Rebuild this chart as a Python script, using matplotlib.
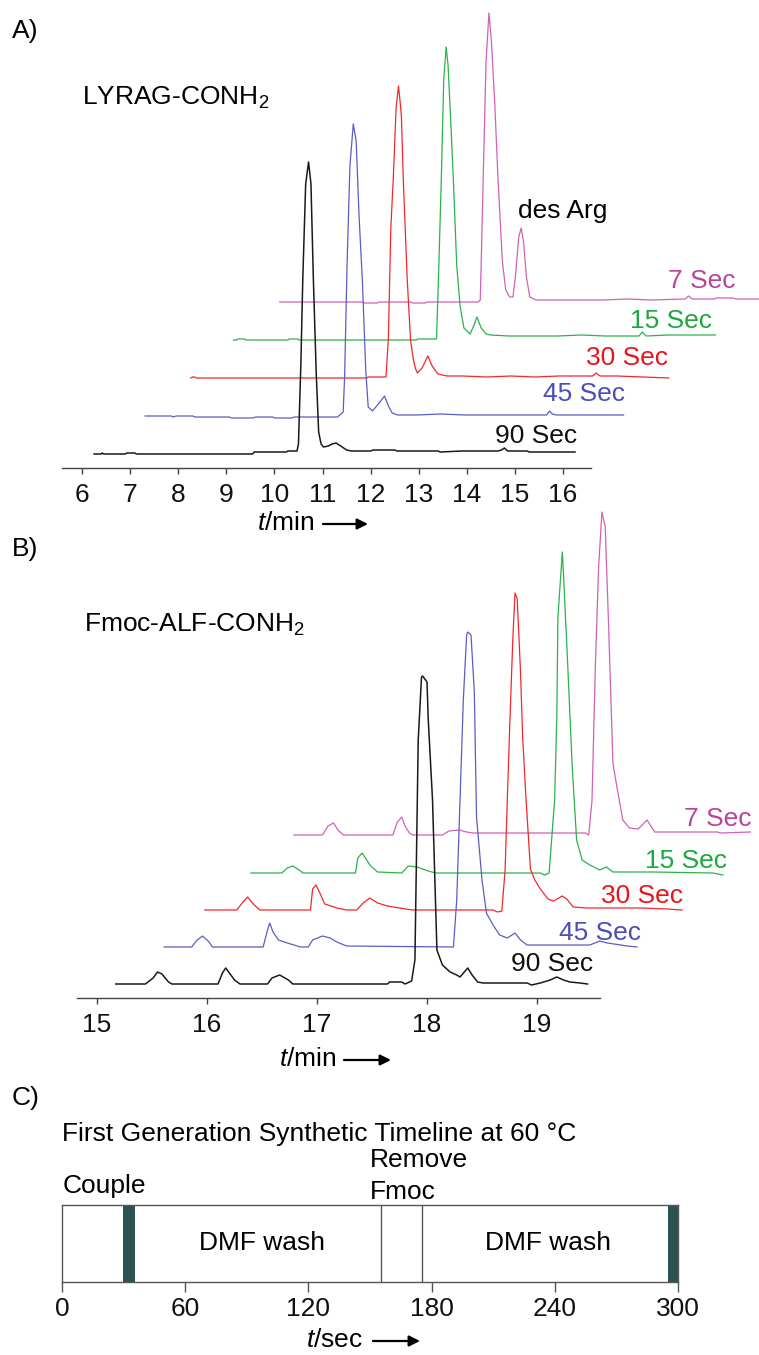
import numpy as np
import matplotlib.pyplot as plt

plt.rcParams['font.family'] = ['Liberation Sans', 'DejaVu Sans']
plt.rcParams['mathtext.fontset'] = 'custom'
plt.rcParams['mathtext.rm'] = 'Liberation Sans'
plt.rcParams['mathtext.it'] = 'Liberation Sans:italic'

# ---------------- data ----------------
runs = ['90 Sec', '45 Sec', '30 Sec', '15 Sec', '7 Sec']
line_colors = ['#1a1a1a', '#5b5dc6', '#f3262c', '#2bb24c', '#d262b4']
text_colors = ['#111111', '#4b4db8', '#e8161c', '#1fa83f', '#b8449e']

# A) LYRAG-CONH2, each run on its own clock (min), signal (a.u.)
lyrag_90_t = [6.25, 6.4, 6.42, 6.45, 6.9, 6.93, 7.1, 7.13, 9.55, 9.58, 10.25, 10.28, 10.47, 10.50,
              10.55, 10.59, 10.65, 10.71, 10.76, 10.81, 10.87, 10.92, 10.97, 11.02, 11.12, 11.2,
              11.28, 11.38, 11.5, 11.6, 12.0, 12.05, 12.5, 12.55, 13.4, 13.45, 13.9, 14.65, 14.72,
              14.78, 14.85, 15.25, 15.3, 16.25]
lyrag_90_y = [0, 0, 1, 0, 0, 1, 1, 0, 0, 2, 2, 3, 3, 10,
              90, 175, 270, 292, 270, 175, 80, 22, 10, 7, 8, 10,
              11, 8, 4, 3, 3, 4, 4, 3, 3, 2, 3, 3, 4,
              6, 3, 3, 2, 2]
lyrag_45_t = [6.35, 6.9, 6.93, 7.0, 7.35, 7.38, 7.6, 8.1, 8.15, 8.6, 8.65, 9.0, 9.05, 9.4, 9.45,
              10.35, 10.40, 10.47, 10.50, 10.55, 10.61, 10.68, 10.74, 10.80, 10.87, 10.94, 10.99,
              11.08, 11.2, 11.33, 11.42, 11.49, 11.6, 12.0, 12.5, 13.0, 13.5, 14.0, 14.7, 14.76,
              14.82, 14.9, 15.3, 16.3]
lyrag_45_y = [0, 0, -1, 0, 0, -1, -1, -1, -2, -2, -1, -1, -2, -2, -1,
              -1, 1, 4, 40, 150, 250, 292, 275, 200, 134, 45, 9,
              5, 12, 20, 9, 3, 1, 1, 2, 1, 1, 1, 1, 5,
              2, 1, 1, 1]
lyrag_30_t = [6.34, 6.38, 6.42, 6.46, 10.0, 10.03, 10.40, 10.45, 10.50, 10.55, 10.61, 10.66, 10.69,
              10.72, 10.76, 10.84, 10.91, 10.97, 11.01, 11.05, 11.15, 11.27, 11.36, 11.48, 11.67,
              12.0, 12.5, 13.0, 13.5, 14.0, 14.7, 14.77, 14.85, 15.2, 16.28]
lyrag_30_y = [0, 1, 1, 0, 0, 1, 1, 40, 150, 198, 270, 292, 278,
              262, 198, 100, 38, 18, 10, 5, 10, 22, 12, 4, 2,
              2, 1, 2, 1, 2, 2, 5, 2, 2, 0]
lyrag_15_t = [6.27, 6.33, 6.36, 6.5, 6.53, 7.4, 7.43, 7.6, 7.63, 10.07, 10.10, 10.49, 10.53, 10.59,
              10.64, 10.69, 10.73, 10.78, 10.84, 10.91, 10.98, 11.06, 11.19, 11.27, 11.33, 11.42,
              11.52, 11.61, 12.0, 12.5, 13.0, 13.5, 14.0, 14.7, 14.77, 14.85, 15.3, 16.29]
lyrag_15_y = [0, 0, 1, 1, 0, 0, 1, 1, 0, 0, 1, 1, 60, 161,
              260, 293, 275, 225, 161, 75, 34, 12, 6, 15, 23, 12,
              6, 5, 4, 4, 4, 5, 4, 4, 8, 4, 5, 5]
lyrag_7_t = [6.27, 8.0, 8.03, 8.3, 8.33, 9.0, 9.03, 9.3, 9.33, 10.40, 10.44, 10.47, 10.50, 10.56,
             10.62, 10.67, 10.74, 10.81, 10.9, 10.97, 11.05, 11.12, 11.18, 11.24, 11.29, 11.34,
             11.4, 11.47, 11.6, 12.0, 12.5, 13.0, 13.5, 14.0, 14.7, 14.77, 14.85, 15.3, 15.35,
             15.7, 15.75, 16.25]
lyrag_7_y = [0, 0, -1, -1, 0, 0, -1, -1, 0, 0, 2, 60, 122, 240,
             289, 262, 200, 122, 40, 12, 5, 5, 30, 65, 74, 60,
             25, 5, 2, 2, 2, 2, 3, 2, 3, 6, 3, 3, 4,
             4, 3, 3]

# B) Fmoc-ALF-CONH2
alf_90_t = [15.17, 15.44, 15.51, 15.55, 15.59, 15.65, 15.68, 16.10, 16.14, 16.17, 16.21, 16.25,
            16.30, 16.55, 16.59, 16.66, 16.74, 16.78, 17.64, 17.66, 17.77, 17.80, 17.86, 17.89,
            17.92, 17.95, 17.96, 18.00, 18.01, 18.05, 18.09, 18.14, 18.21, 18.27, 18.30, 18.37,
            18.41, 18.46, 18.51, 18.91, 18.95, 19.03, 19.12, 19.18, 19.24, 19.30, 19.39, 19.46]
alf_90_y = [0, 0, 6, 12, 10, 2, 0, 0, 11, 16, 10, 4,
            0, 0, 6, 9, 4, 0, 0, 2, 2, 0, 3, 24,
            244, 307, 308, 302, 267, 184, 34, 19, 12, 9, 7, 16,
            9, 2, 1, 1, -1, 1, 4, 7, 4, 2, 1, 0]
alf_45_t = [15.20, 15.45, 15.50, 15.55, 15.60, 15.64, 16.10, 16.14, 16.16, 16.19, 16.24, 16.32,
            16.44, 16.51, 16.55, 16.64, 16.71, 16.77, 16.86, 17.83, 17.86, 17.89, 17.92, 17.95,
            17.96, 17.99, 18.02, 18.04, 18.09, 18.13, 18.19, 18.25, 18.32, 18.39, 18.44, 18.50,
            19.07, 19.16, 19.23, 19.41, 19.50]
alf_45_y = [0, 0, 7, 11, 6, 0, 0, 17, 24, 15, 7, 4,
            0, 0, 7, 11, 9, 5, 1, 0, 47, 147, 247, 312,
            315, 312, 255, 130, 67, 34, 22, 12, 9, 14, 7, 2,
            2, 6, 4, 1, 0]
alf_30_t = [15.16, 15.45, 15.50, 15.55, 15.60, 15.66, 16.12, 16.14, 16.17, 16.21, 16.25, 16.36,
            16.45, 16.54, 16.60, 16.66, 16.73, 16.82, 16.93, 17.05, 17.78, 17.82, 17.86, 17.89,
            17.91, 17.93, 17.96, 17.98, 18.00, 18.03, 18.05, 18.08, 18.12, 18.16, 18.21, 18.28,
            18.33, 18.41, 18.45, 18.51, 18.63, 19.12, 19.36, 19.50]
alf_30_y = [0, 0, 7, 13, 6, 0, 0, 21, 25, 16, 6, 2,
            0, 0, 7, 12, 7, 4, 2, 0, 0, -2, -1, 40,
            111, 178, 271, 317, 311, 238, 171, 111, 41, 30, 21, 11,
            9, 14, 11, 3, 2, 2, 1, 0]
alf_15_t = [15.17, 15.45, 15.50, 15.55, 15.62, 15.64, 16.12, 16.14, 16.18, 16.21, 16.25, 16.32,
            16.54, 16.60, 16.68, 16.78, 16.85, 17.80, 17.84, 17.88, 17.93, 17.95, 17.96, 18.00,
            18.01, 18.05, 18.09, 18.13, 18.18, 18.25, 18.34, 18.40, 18.46, 18.82, 19.37, 19.46]
alf_15_y = [0, 0, 5, 7, 2, 0, 0, 15, 20, 15, 8, 1,
            0, 7, 6, 2, 0, 0, -2, 0, 73, 156, 256, 321,
            300, 206, 106, 33, 13, 8, 3, 6, 1, 1, 0, -2]
alf_7_t = [15.15, 15.41, 15.46, 15.51, 15.55, 15.60, 16.05, 16.09, 16.13, 16.16, 16.20, 16.23,
           16.50, 16.56, 16.65, 16.72, 16.78, 17.80, 17.83, 17.86, 17.89, 17.92, 17.95, 17.98,
           18.01, 18.05, 18.08, 18.14, 18.20, 18.28, 18.36, 18.43, 18.50, 19.00, 19.03, 19.30]
alf_7_y = [0, 0, 9, 12, 5, 0, 0, 13, 18, 9, 2, 0,
           0, 4, 5, 3, 2, 2, 0, 35, 168, 268, 323, 308,
           212, 72, 52, 15, 7, 6, 15, 3, 3, 3, 2, 3]

# C) synthesis timeline (s)
drain_start = [29.7, 295.2]
drain_end = [35.6, 300.0]
step_dividers = [155.4, 175.4]
wash_centers = [97.5, 236.5]
sec_ticks = [0, 60, 120, 180, 240, 300]

# ---------------- layout ----------------
W, H = 759, 1355
FS = 19


def rect(l, t, r, b):
    return [l / W, 1 - b / H, (r - l) / W, (b - t) / H]


def fx(x):
    return x / W


def fy(y):
    return 1 - y / H


fig = plt.figure(figsize=(W / 100, H / 100), dpi=100)


def chrom_axes(box, xlim, spine_end, ticks):
    ax = fig.add_axes(rect(*box))
    ax.set_xlim(*xlim)
    ax.set_ylim(0, box[3] - box[1])
    ax.patch.set_alpha(0)
    for s in ('left', 'top', 'right'):
        ax.spines[s].set_visible(False)
    ax.spines['bottom'].set_color('#444444')
    ax.spines['bottom'].set_linewidth(1.0)
    ax.spines['bottom'].set_bounds(xlim[0], spine_end)
    ax.set_yticks([])
    ax.set_xticks(ticks)
    ax.set_xticklabels([str(v) for v in ticks])
    ax.tick_params(axis='x', direction='out', length=4.5, width=1, color='#444444',
                   labelcolor='#111111', labelsize=FS, pad=6)
    return ax


# panel A
ax_a = chrom_axes((62, 0, 759, 468), (5.584, 20.075), 16.58, list(range(6, 17)))
a_t = [lyrag_90_t, lyrag_45_t, lyrag_30_t, lyrag_15_t, lyrag_7_t]
a_y = [lyrag_90_y, lyrag_45_y, lyrag_30_y, lyrag_15_y, lyrag_7_y]
a_dx = 0.96
a_base = [14, 52, 90, 128, 166]
for k in range(4, -1, -1):
    ax_a.plot(np.array(a_t[k]) + k * a_dx, np.array(a_y[k]) + a_base[k],
              color=line_colors[k], lw=1.1 if k == 0 else 0.9, zorder=10 - k)

# panel B
ax_b = chrom_axes((77, 500, 759, 998), (14.818, 21.018), 19.57, [15, 16, 17, 18, 19])
b_t = [alf_90_t, alf_45_t, alf_30_t, alf_15_t, alf_7_t]
b_y = [alf_90_y, alf_45_y, alf_30_y, alf_15_y, alf_7_y]
b_dx = 0.41
b_base = [14, 51, 88, 125, 163]
for k in range(4, -1, -1):
    ax_b.plot(np.array(b_t[k]) + k * b_dx, np.array(b_y[k]) + b_base[k],
              color=line_colors[k], lw=1.1 if k == 0 else 0.9, zorder=10 - k)

# run labels (right edge, baseline) in figure pixels
a_lab = [(577, 443), (625, 401), (668, 365), (712, 328), (735, 288)]
b_lab = [(593, 971), (641, 940), (683, 903), (727, 868), (751, 826)]
for k in range(5):
    for (x, y) in (a_lab[k], b_lab[k]):
        fig.text(fx(x), fy(y), runs[k], color=text_colors[k], fontsize=FS,
                 ha='right', va='baseline')

fig.text(fx(12), fy(38), 'A)', fontsize=FS, va='baseline')
fig.text(fx(12), fy(556), 'B)', fontsize=FS, va='baseline')
fig.text(fx(12), fy(1105), 'C)', fontsize=FS, va='baseline')
fig.text(fx(82), fy(105), r'LYRAG-CONH$_\mathregular{2}$', fontsize=FS, va='baseline')
fig.text(fx(84), fy(632), r'Fmoc-ALF-CONH$_\mathregular{2}$', fontsize=FS, va='baseline')
fig.text(fx(518), fy(218), 'des Arg', fontsize=FS, va='baseline')


def axis_title(x, y, unit, x0, x1):
    fig.text(fx(x), fy(y), r'$t$/' + unit, fontsize=FS, va='baseline')
    ax_a.annotate('', xy=(fx(x1), fy(y - 6)), xytext=(fx(x0), fy(y - 6)),
                  xycoords='figure fraction', textcoords='figure fraction',
                  arrowprops=dict(arrowstyle='-|>', color='black', lw=1.6,
                                  mutation_scale=16, shrinkA=0, shrinkB=0))


axis_title(257, 530, 'min', 323, 368)
axis_title(279, 1066, 'min', 344, 391)
axis_title(306, 1347, 'sec', 373, 420)

# panel C
ax_c = fig.add_axes(rect(62, 1205, 678, 1282))
ax_c.set_xlim(0, 300)
ax_c.set_ylim(0, 1)
for s in ax_c.spines.values():
    s.set_color('#555555')
    s.set_linewidth(1.0)
ax_c.set_yticks([])
ax_c.set_xticks(sec_ticks)
ax_c.tick_params(axis='x', direction='out', length=7, width=1, color='#555555',
                 labelcolor='#111111', labelsize=FS, pad=4)
for s0, s1 in zip(drain_start, drain_end):
    ax_c.axvspan(s0, s1, color='#2c5252', lw=0)
for d in step_dividers:
    ax_c.axvline(d, color='#555555', lw=1.0)
for c in wash_centers:
    ax_c.text(c, 0.5, 'DMF wash', fontsize=FS, ha='center', va='center')

fig.text(fx(62), fy(1141), 'First Generation Synthetic Timeline at 60 \u00b0C', fontsize=FS,
         va='baseline')
fig.text(fx(63), fy(1193), 'Couple', fontsize=FS, va='baseline')
fig.text(fx(370), fy(1167), 'Remove', fontsize=FS, va='baseline')
fig.text(fx(370), fy(1199), 'Fmoc', fontsize=FS, va='baseline')

fig.savefig('out.png', dpi=100)
